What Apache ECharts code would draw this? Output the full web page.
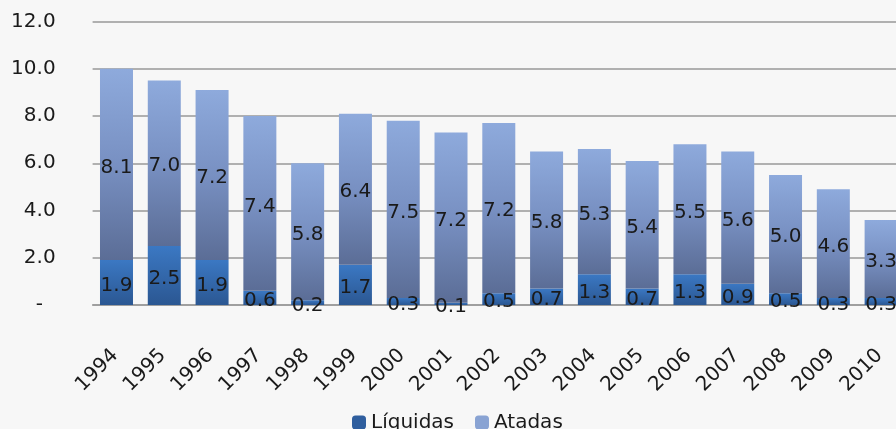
<!DOCTYPE html>
<html>
<head>
<meta charset="utf-8">
<script src="https://cdn.jsdelivr.net/npm/echarts@6/dist/echarts.min.js"></script>
<style>
html,body{margin:0;padding:0;background:#f7f7f7;overflow:hidden;}
#chart{width:905px;height:429px;}
</style>
</head>
<body>
<div id="chart"></div>
<script>
var years = ['1994','1995','1996','1997','1998','1999','2000','2001','2002','2003','2004','2005','2006','2007','2008','2009','2010'];
var liquidas = [1.9,2.5,1.9,0.6,0.2,1.7,0.3,0.1,0.5,0.7,1.3,0.7,1.3,0.9,0.5,0.3,0.3];
var atadas = [8.1,7.0,7.2,7.4,5.8,6.4,7.5,7.2,7.2,5.8,5.3,5.4,5.5,5.6,5.0,4.6,3.3];
var yTicks = [0,2,4,6,8,10,12];

var FONT = 'DejaVu Sans';
var chart = echarts.init(document.getElementById('chart'), null, {renderer:'canvas'});
var labelStyle = {
  show: true, position: 'inside', offset: [0, 3],
  fontFamily: FONT, fontSize: 20, color: '#1a1a1a',
  formatter: function(p){ return p.value.toFixed(1); }
};
chart.setOption({
  backgroundColor: '#f7f7f7',
  animation: false,
  grid: {left: 92.6, top: 21.5, bottom: 124, right: 0, containLabel: false},
  legend: {
    left: 347, top: 407.5,
    itemWidth: 14, itemHeight: 14, itemGap: 21,
    textStyle: {fontFamily: FONT, fontSize: 20, color: '#1a1a1a'},
    data: [
      {name: 'Líquidas', itemStyle: {color: '#2f5e9e'}},
      {name: 'Atadas', itemStyle: {color: '#89a3d3'}}
    ]
  },
  xAxis: {
    type: 'category', data: years,
    axisLine: {show: true, lineStyle: {color: '#999', width: 1.5}},
    axisTick: {show: false},
    axisLabel: {rotate: 45, margin: 46, padding: [0, 2, 0, 0], fontFamily: FONT, fontSize: 20, color: '#1a1a1a', interval: 0}
  },
  yAxis: {
    type: 'value', min: yTicks[0], max: yTicks[yTicks.length-1], interval: 2,
    axisLine: {show: false}, axisTick: {show: false},
    splitLine: {lineStyle: {color: '#999', width: 1.5}},
    axisLabel: {
      margin: 37, fontFamily: FONT, fontSize: 20, color: '#1a1a1a',
      formatter: function(v){ return v === 0 ? '-  ' : v.toFixed(1); }
    }
  },
  series: [
    {
      name: 'Líquidas', type: 'bar', stack: 't', barWidth: 33, data: liquidas,
      itemStyle: {color: new echarts.graphic.LinearGradient(0,0,0,1,[
        {offset:0, color:'#3b78c3'},{offset:1, color:'#2b5792'}])},
      label: labelStyle
    },
    {
      name: 'Atadas', type: 'bar', stack: 't', barWidth: 33, data: atadas,
      itemStyle: {color: new echarts.graphic.LinearGradient(0,0,0,1,[
        {offset:0, color:'#8eaadc'},{offset:0.5, color:'#7890c2'},{offset:1, color:'#5b6d96'}])},
      label: labelStyle
    }
  ]
});
</script>
</body>
</html>
